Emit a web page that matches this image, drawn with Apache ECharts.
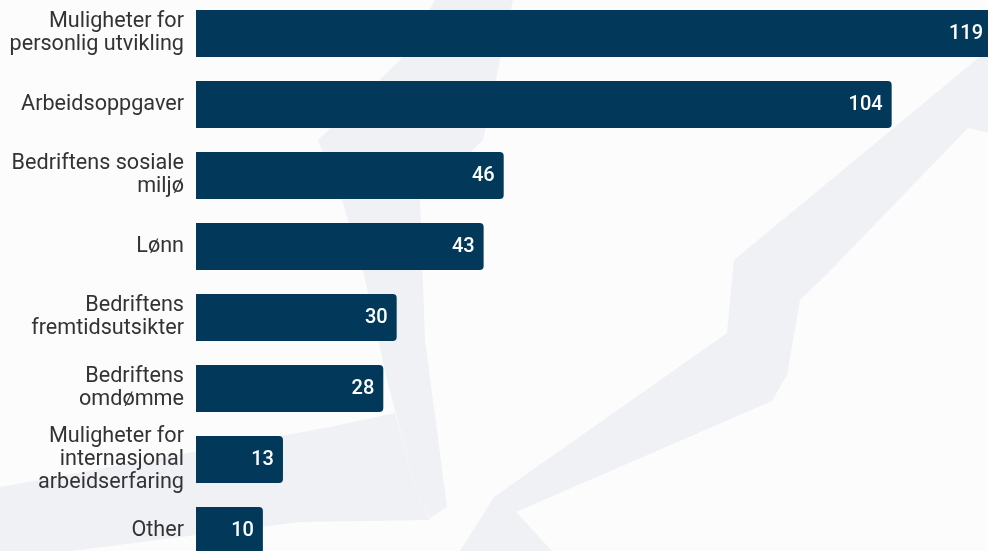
<!DOCTYPE html>
<html><head><meta charset="utf-8">
<script src="https://cdn.jsdelivr.net/npm/echarts@6/dist/echarts.min.js"></script>
<style>html,body{margin:0;padding:0;background:#fcfcfd}#c{width:988px;height:551px}</style>
</head><body><div id="c"></div>
<script>
const categories = [
  "Muligheter for\npersonlig utvikling",
  "Arbeidsoppgaver",
  "Bedriftens sosiale\nmiljø",
  "Lønn",
  "Bedriftens\nfremtidsutsikter",
  "Bedriftens\nomdømme",
  "Muligheter for\ninternasjonal\narbeidserfaring",
  "Other"
];
const values = [119, 104, 46, 43, 30, 28, 13, 10];

// faint decorative watermark shapes in the background
const watermarkColor = '#eff1f5';
const watermark = [
  [[435,0],[513,0],[483,140],[420,200],[425,340],[447,507],[430,518],[417,493],[387,380],[363,270],[342,200],[318,140],[400,60]],
  [[0,487],[330,427],[395,413],[417,493],[430,520],[300,522],[0,560]],
  [[1000,40],[734,260],[727,333],[494,497],[460,551],[552,551],[516,512],[772,401],[787,375],[800,300],[826,275],[968,128],[1000,135]]
];

const chart = echarts.init(document.getElementById('c'));
chart.setOption({
  backgroundColor: '#fcfcfd',
  animation: false,
  graphic: watermark.map(pts => ({
    type: 'polygon', z: -10, silent: true,
    shape: { points: pts },
    style: { fill: watermarkColor }
  })),
  grid: { left: 196, top: -2, width: 796, height: 568, containLabel: false, outerBoundsMode: 'none' },
  xAxis: { type: 'value', min: 0, max: 119, show: false },
  yAxis: {
    type: 'category', data: categories, inverse: true,
    axisLine: { show: false }, axisTick: { show: false },
    axisLabel: { color: '#333', fontFamily: 'Roboto', fontSize: 21.6, lineHeight: 23, margin: 12, align: 'right' }
  },
  series: [{
    type: 'bar', data: values, barWidth: 47, z: 5,
    itemStyle: { color: '#02395b', borderRadius: [0, 4, 4, 0] },
    label: { show: true, position: 'insideRight', distance: 9, color: '#fff', fontFamily: 'Roboto', fontWeight: 500, fontSize: 20 }
  }]
});
</script></body></html>
